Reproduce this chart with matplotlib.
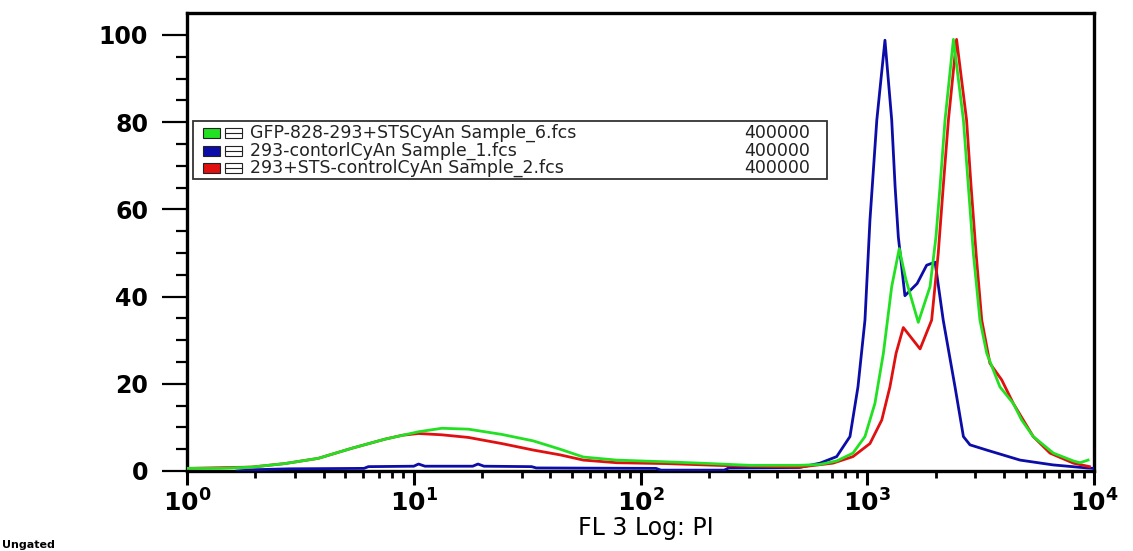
import numpy as np
import matplotlib
matplotlib.use("Agg")
import matplotlib.pyplot as plt
from matplotlib.patches import Rectangle
from matplotlib.lines import Line2D
from matplotlib.ticker import FixedLocator, NullFormatter

# ---------------- data ----------------
green_fl = [1.0, 1.41, 1.93, 2.70, 3.79, 5.32, 7.46, 10.5, 13.3, 17.4, 24.4, 33.7,
            44.2, 56.0, 78.5, 130, 183, 304, 505, 617, 733, 865, 977, 1081, 1178,
            1282, 1384, 1479, 1679, 1892, 2009, 2094, 2203, 2399, 2655, 2793, 2938,
            3141, 3365, 3846, 4406, 4797, 5395, 6622, 8110, 8670, 9419]
green_cnt = [0.6, 0.6, 0.9, 1.7, 2.9, 5.2, 7.3, 9.0, 9.8, 9.6, 8.4, 6.9,
             5.0, 3.2, 2.5, 2.1, 1.8, 1.3, 1.3, 1.5, 2.3, 4.1, 7.9, 15.5, 27.0,
             42.3, 51.0, 44.0, 34.1, 42.3, 53.7, 65.2, 80.5, 99.0, 80.5, 65.2, 49.9,
             34.6, 27.0, 19.3, 15.5, 11.7, 7.9, 4.1, 2.3, 1.9, 2.5]

blue_fl = [1.66, 2.0, 2.82, 6.03, 6.31, 10.0, 10.5, 11.2, 18.2, 19.2, 20.4, 33.1,
           34.7, 117, 123, 234, 245, 501, 619, 733, 839, 910, 977, 1028, 1102,
           1197, 1282, 1327, 1371, 1466, 1660, 1828, 1991, 2163, 2438, 2655, 2838,
           3365, 4721, 6592, 9311, 10000]
blue_cnt = [0.0, 0.3, 0.5, 0.6, 1.0, 1.1, 1.6, 1.1, 1.1, 1.6, 1.1, 1.0,
            0.7, 0.6, 0.2, 0.2, 0.7, 0.8, 1.8, 3.3, 7.9, 19.3, 34.6, 57.6, 80.5,
            98.8, 80.5, 65.2, 53.7, 40.2, 43.0, 47.2, 47.9, 34.6, 19.3, 7.9, 6.0,
            4.8, 2.5, 1.4, 0.7, 0.6]

red_fl = [1.0, 1.93, 2.70, 3.79, 5.32, 7.46, 8.91, 10.5, 13.3, 17.4, 24.4, 33.7,
          44.2, 56.0, 78.5, 130, 217, 304, 505, 706, 865, 1028, 1159, 1259, 1340,
          1442, 1710, 1923, 2056, 2163, 2280, 2477, 2742, 2871, 3020, 3199, 3475,
          3917, 4406, 4875, 5395, 6397, 8110, 9550]
red_cnt = [0.6, 0.9, 1.7, 2.9, 5.2, 7.3, 8.2, 8.6, 8.3, 7.7, 6.3, 4.8,
           3.7, 2.5, 1.9, 1.7, 1.3, 1.1, 0.9, 1.8, 3.3, 6.3, 11.7, 19.3, 27.0,
           32.9, 28.0, 34.6, 49.9, 65.2, 80.5, 99.0, 80.5, 65.2, 49.9, 34.6, 24.7,
           20.9, 15.5, 11.7, 7.9, 4.1, 1.8, 1.0]

legend_names = ["GFP-828-293+STSCyAn Sample_6.fcs",
                "293-contorlCyAn Sample_1.fcs",
                "293+STS-controlCyAn Sample_2.fcs"]
legend_counts = ["400000", "400000", "400000"]
y_ticks = [0, 20, 40, 60, 80, 100]
x_decades = [1, 10, 100, 1000, 10000]
x_tick_labels = [r"$\mathbf{10^{0}}$", r"$\mathbf{10^{1}}$", r"$\mathbf{10^{2}}$",
                 r"$\mathbf{10^{3}}$", r"$\mathbf{10^{4}}$"]
x_label = "FL 3 Log: PI"
corner_note = "Ungated"

GREEN = "#22e022"
BLUE = "#0c0ca8"
RED = "#e01010"

# ---------------- figure ----------------
W, H = 1133, 551
fig = plt.figure(figsize=(W / 100, H / 100), dpi=100)
fig.patch.set_facecolor("white")
plt.rcParams["mathtext.fontset"] = "dejavusans"

left, right, top, zero = 187, 1094, 13, 471
ax = fig.add_axes([left / W, 1 - zero / H, (right - left) / W, (zero - top) / H])
ax.set_xscale("log")
ax.set_xlim(1, 10000)
ymax = (zero - top) / 4.36
ax.set_ylim(0, ymax)

ax.plot(blue_fl, blue_cnt, color=BLUE, lw=2.0, zorder=3)
ax.plot(red_fl, red_cnt, color=RED, lw=2.0, zorder=4)
ax.plot(green_fl, green_cnt, color=GREEN, lw=2.0, zorder=5)

for s in ax.spines.values():
    s.set_linewidth(2.4)
    s.set_color("black")

# y ticks
ax.yaxis.set_major_locator(FixedLocator(y_ticks))
ax.yaxis.set_minor_locator(FixedLocator([v for v in range(0, 101, 5) if v % 20]))
ax.set_yticklabels([str(v) for v in y_ticks], fontsize=17, fontweight="bold",
                   family="DejaVu Sans")
ax.tick_params(axis="y", which="major", direction="out", length=18, width=1.6, pad=10)
ax.tick_params(axis="y", which="minor", direction="out", length=8, width=1.6)

# x ticks
ax.xaxis.set_major_locator(FixedLocator(x_decades))
ax.set_xticklabels(x_tick_labels, fontsize=18)
mid = [5 * d for d in x_decades[:-1]]
small = [k * d for d in x_decades[:-1] for k in (2, 3, 4, 6, 7, 8, 9)]
ax.xaxis.set_minor_locator(FixedLocator(sorted(mid + small)))
ax.xaxis.set_minor_formatter(NullFormatter())
ax.tick_params(axis="x", which="major", direction="out", length=10, width=2.2, pad=3)
ax.tick_params(axis="x", which="minor", direction="out", length=5, width=2.0)

ax.set_xlabel(x_label, fontsize=17)
ax.xaxis.set_label_coords((646 - left) / (right - left), -(528 - zero) / (zero - top))
ax.xaxis.label.set_verticalalignment("center")

fig.text(2 / W, 1 - 545 / H, corner_note, fontsize=8, fontweight="bold",
         family="DejaVu Sans", va="center", ha="left")

# ---------------- legend box (figure pixel coordinates) ----------------
def fx(x):
    return x / W

def fy(y):
    return 1 - y / H

bx0, by0, bx1, by1 = 193, 121, 827, 179
fig.add_artist(Rectangle((fx(bx0), fy(by1)), fx(bx1) - fx(bx0), fy(by0) - fy(by1),
                         transform=fig.transFigure, facecolor="white",
                         edgecolor="#333333", lw=1.3, zorder=10))
rows = [133, 151, 168]
cols = [GREEN, BLUE, RED]
for yrow, c, name, cnt in zip(rows, cols, legend_names, legend_counts):
    fig.add_artist(Rectangle((fx(203), fy(yrow + 5)), fx(17), 10 / H,
                             transform=fig.transFigure, facecolor=c,
                             edgecolor="#222222", lw=0.8, zorder=11))
    fig.add_artist(Rectangle((fx(225), fy(yrow + 5)), fx(17), 10 / H,
                             transform=fig.transFigure, facecolor="white",
                             edgecolor="#222222", lw=0.8, zorder=11))
    fig.add_artist(Line2D([fx(225), fx(242)], [fy(yrow), fy(yrow)],
                          transform=fig.transFigure, color="#222222", lw=0.8,
                          zorder=12))
    fig.text(fx(250), fy(yrow), name, fontsize=12.5, va="center", ha="left",
             family="DejaVu Sans", color="#222222", zorder=12)
    fig.text(fx(810), fy(yrow), cnt, fontsize=12.5, va="center", ha="right",
             family="DejaVu Sans", color="#222222", zorder=12)

fig.savefig("out.png", dpi=100, facecolor="white")
